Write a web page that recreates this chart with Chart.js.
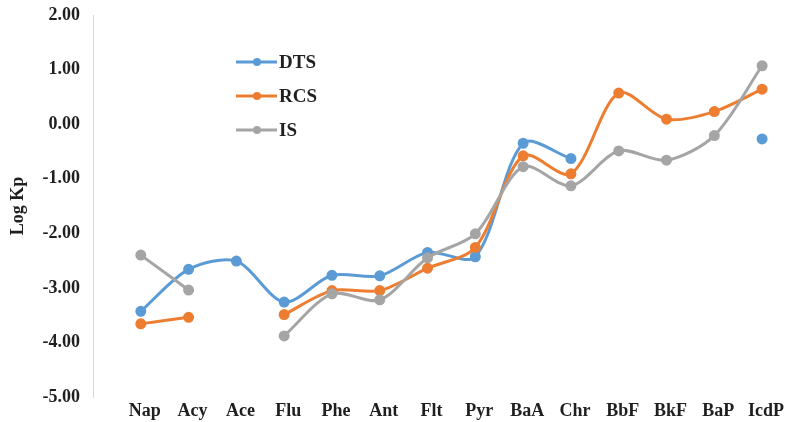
<!DOCTYPE html>
<html>
<head>
<meta charset="utf-8">
<script src="https://cdn.jsdelivr.net/npm/chart.js@4.4.1/dist/chart.umd.min.js"></script>
<style>
  html, body { margin: 0; padding: 0; background: #fff; }
  #wrap { width: 802px; height: 422px; }
</style>
</head>
<body>
<div id="wrap"><canvas id="kpChart"></canvas></div>
<script>
const labels = ["Nap", "Acy", "Ace", "Flu", "Phe", "Ant", "Flt", "Pyr", "BaA", "Chr", "BbF", "BkF", "BaP", "IcdP"];
const dts = [-3.43, -2.66, -2.51, -3.26, -2.77, -2.78, -2.35, -2.43, -0.35, -0.63, null, null, null, -0.27];
const rcs = [-3.66, -3.54, null, -3.49, -3.05, -3.05, -2.64, -2.26, -0.58, -0.91, 0.57, 0.09, 0.23, 0.64];
const is = [-2.40, -3.04, null, -3.88, -3.11, -3.22, -2.45, -2.01, -0.78, -1.13, -0.49, -0.66, -0.21, 1.07];
const yTicks = [-5, -4, -3, -2, -1, 0, 1, 2];

const FONT = "'Liberation Serif', 'Times New Roman', serif";
const TEXT = "#1f1f1f";
const toPoints = (arr) => arr.map((v, i) => ({ x: i, y: v }));

function series(label, values, color, order) {
  return {
    label: label,
    data: toPoints(values),
    borderColor: color,
    backgroundColor: color,
    pointBackgroundColor: color,
    pointBorderColor: color,
    borderWidth: 3,
    pointRadius: 4,
    tension: 0.3,
    spanGaps: false,
    order: order,
  };
}

// legend drawn inside the plot, like the original
const innerLegend = {
  id: "innerLegend",
  afterDatasetsDraw(chart) {
    const ctx = chart.ctx;
    ctx.save();
    ctx.font = "bold 19px " + FONT;
    ctx.textBaseline = "middle";
    chart.data.datasets.forEach((ds, r) => {
      const y = 62 + r * 34;
      ctx.strokeStyle = ds.borderColor;
      ctx.lineWidth = 3;
      ctx.beginPath();
      ctx.moveTo(236, y);
      ctx.lineTo(277, y);
      ctx.stroke();
      ctx.fillStyle = ds.borderColor;
      ctx.beginPath();
      ctx.arc(257, y, 4, 0, Math.PI * 2);
      ctx.fill();
      ctx.fillStyle = TEXT;
      ctx.fillText(ds.label, 279, y + 1);
    });
    ctx.restore();
  },
};

const ctx = document.getElementById("kpChart").getContext("2d");
new Chart(ctx, {
  type: "line",
  data: {
    datasets: [
      series("DTS", dts, "#5B9BD5", 2),
      series("RCS", rcs, "#ED7D31", 1),
      series("IS", is, "#A5A5A5", 0),
    ],
  },
  options: {
    responsive: true,
    maintainAspectRatio: false,
    animation: false,
    layout: { padding: { top: 15, right: 16, left: 0, bottom: 0 } },
    plugins: {
      legend: { display: false },
      tooltip: { enabled: false },
    },
    scales: {
      x: {
        type: "linear",
        min: -1,
        max: 13.5,
        grid: { display: false, drawTicks: false },
        border: { display: false },
        afterFit: (s) => { s.height = 25; s.paddingLeft = 0; s.paddingRight = 0; },
        afterBuildTicks: (s) => { s.ticks = labels.map((l, i) => ({ value: i })); },
        ticks: {
          autoSkip: false,
          maxRotation: 0,
          padding: 4,
          labelOffset: 4,
          color: TEXT,
          font: { family: FONT, size: 18, weight: "bold" },
          callback: (v) => labels[v] || "",
        },
      },
      y: {
        min: yTicks[0],
        max: yTicks[yTicks.length - 1],
        grid: { display: false, drawTicks: false },
        border: { display: true, color: "#D9D9D9", width: 1 },
        afterFit: (s) => { s.width = 93; s.paddingTop = 0; s.paddingBottom = 0; },
        afterBuildTicks: (s) => { s.ticks = yTicks.map((v) => ({ value: v })); },
        ticks: {
          padding: 13,
          color: TEXT,
          font: { family: FONT, size: 18, weight: "bold" },
          callback: (v) => v.toFixed(2),
        },
        title: {
          display: true,
          text: "Log Kp",
          color: TEXT,
          padding: { top: 8, bottom: 0 },
          font: { family: FONT, size: 18, weight: "bold" },
        },
      },
    },
  },
  plugins: [innerLegend],
});
</script>
</body>
</html>
